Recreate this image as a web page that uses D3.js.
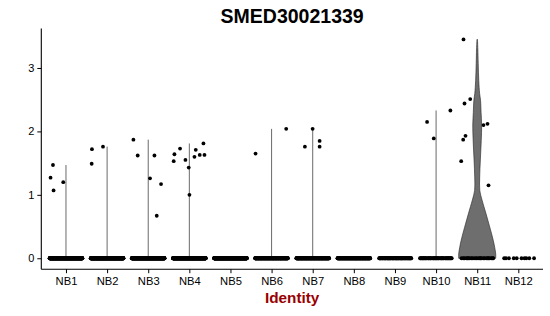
<!DOCTYPE html>
<html><head><meta charset="utf-8">
<script src="https://cdn.jsdelivr.net/npm/d3@7"></script>
<style>body{margin:0;background:#fff}svg{display:block}</style>
</head><body><svg id="c" width="550" height="316"></svg>
<script>
const categories = ["NB1","NB2","NB3","NB4","NB5","NB6","NB7","NB8","NB9","NB10","NB11","NB12"];
const zeroCounts = [400,400,400,400,400,220,220,200,80,50,25,10];
const nonzeroValues = [
  [1.27,1.47,1.07,1.20],
  [1.72,1.49,1.76],
  [1.87,1.62,1.62,1.26,1.17,0.67],
  [1.53,1.64,1.73,1.55,1.43,1.00,1.60,1.71,1.63,1.63,1.81],
  [],
  [1.65,2.04],
  [2.04,1.76,1.85,1.76],
  [],
  [],
  [2.15,1.89,2.33],
  [3.45,2.51,2.44,2.10,2.12,1.93,1.87,1.53,1.15],
  []
];
const jitterOffsets = [
  [-0.375,-0.316,-0.302,-0.066],
  [-0.368,-0.375,-0.10],
  [-0.36,-0.256,0.151,0.044,0.312,0.207],
  [-0.38,-0.363,-0.226,-0.095,-0.015,0.002,0.124,0.156,0.253,0.368,0.343],
  [],
  [-0.39,0.355],
  [-0.002,-0.19,0.168,0.168],
  [],
  [],
  [-0.219,-0.056,0.348],
  [-0.333,-0.17,-0.309,0.153,0.251,-0.285,-0.341,-0.389,0.275],
  []
];
// NB11 violin outline: expression level -> relative half-width
const nb11Levels = [0,0.07,0.28,0.49,0.71,0.92,1.07,1.28,1.55,1.86,2.1,2.3,2.49,2.6,2.8,3.07,3.3,3.45];
const nb11Widths = [1.0,1.0,0.87,0.68,0.47,0.26,0.14,0.135,0.17,0.22,0.24,0.21,0.18,0.13,0.085,0.055,0.035,0.015];
const yTicks = [0,1,2,3];
const title = "SMED30021339";
const xTitle = "Identity";

(function () {
const svg = d3.select("#c");
const mLeft = 41.3, mRight = 543, mTop = 28.5, mBottom = 269.2;

const x = d3.scalePoint().domain(categories).range([mLeft, mRight]).padding(0.6);
const step = x.step();
const allVals = nonzeroValues.flat().concat([0]);
const vmax = d3.max(allVals), vmin = d3.min(allVals);
const pad = (vmax - vmin) * 0.05;
const y = d3.scaleLinear().domain([vmin - pad, vmax + pad]).range([mBottom, mTop]);

// violins
const halfMax = 0.45 * step;
categories.forEach((c, g) => {
  const vals = nonzeroValues[g];
  if (!vals.length) return;
  const cx = x(c);
  if (c === "NB11") {
    const pts = nb11Levels.map((v, i) => [v, nb11Widths[i]]);
    const area = d3.area()
      .y(d => y(d[0]))
      .x0(d => cx - d[1] * halfMax)
      .x1(d => cx + d[1] * halfMax)
      .curve(d3.curveCatmullRom);
    svg.append("path").datum(pts).attr("d", area)
      .attr("fill", "#6e6e6e").attr("stroke", "#222").attr("stroke-width", 0.6);
  } else {
    svg.append("line")
      .attr("x1", cx).attr("x2", cx)
      .attr("y1", y(0)).attr("y2", y(d3.max(vals)))
      .attr("stroke", "#6a6a6a").attr("stroke-width", 1);
  }
});

// points
const r = 1.9;
categories.forEach((c, g) => {
  const cx = x(c);
  const pts = [];
  for (let i = 0; i < zeroCounts[g]; i++) {
    const u = ((i + 1) * 0.6180339887 + g * 0.137) % 1;
    pts.push([0, (u * 0.8 - 0.4)]);
  }
  nonzeroValues[g].forEach((v, i) => pts.push([v, jitterOffsets[g][i]]));
  svg.append("g").selectAll("circle").data(pts).join("circle")
    .attr("cx", d => cx + d[1] * step)
    .attr("cy", d => y(d[0]))
    .attr("r", r).attr("fill", "#000");
});

// axes
const fontFam = "'Liberation Sans', Arial, Helvetica, sans-serif";
const yAxis = svg.append("g").attr("transform", `translate(${mLeft},0)`)
  .call(d3.axisLeft(y).tickValues(yTicks).tickFormat(d3.format("d")).tickSize(4).tickPadding(3));
yAxis.select(".domain").attr("d", `M0,${mTop}V${mBottom}`).attr("stroke", "#000").attr("stroke-width", 1.1);
yAxis.selectAll(".tick line").attr("stroke", "#000");
yAxis.selectAll("text").attr("font-family", fontFam).attr("font-size", 11).attr("fill", "#000");

const xAxis = svg.append("g").attr("transform", `translate(0,${mBottom})`)
  .call(d3.axisBottom(x).tickSize(4).tickPadding(4));
xAxis.select(".domain").attr("d", `M${mLeft},0H${mRight}`).attr("stroke", "#000").attr("stroke-width", 1.1);
xAxis.selectAll(".tick line").attr("stroke", "#000");
xAxis.selectAll("text").attr("font-family", fontFam).attr("font-size", 11.2).attr("fill", "#000");

svg.append("text").attr("x", (mLeft + mRight) / 2).attr("y", 22.7)
  .attr("text-anchor", "middle").attr("font-family", fontFam)
  .attr("font-weight", "bold").attr("font-size", 19.5).attr("fill", "#000").text(title);

svg.append("text").attr("x", (mLeft + mRight) / 2).attr("y", 303)
  .attr("text-anchor", "middle").attr("font-family", fontFam)
  .attr("font-weight", "bold").attr("font-size", 15.3).attr("fill", "#990000").text(xTitle);
})();
</script>
</body></html>
